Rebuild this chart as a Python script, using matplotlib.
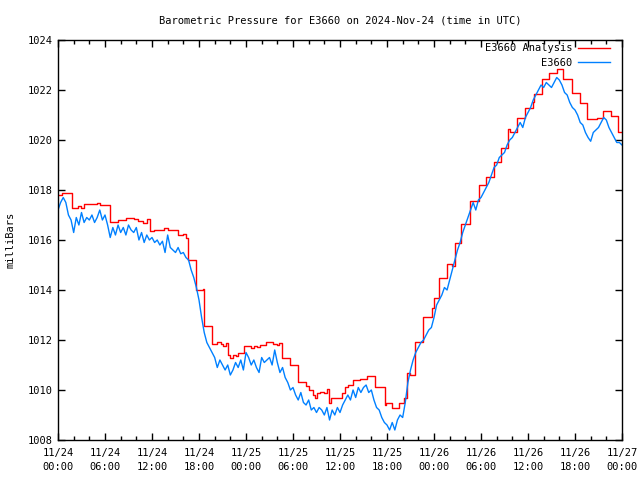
import numpy as np
import matplotlib
matplotlib.use("Agg")
import matplotlib.pyplot as plt

# time axis in hours since 2024-11-24 00:00 UTC
tick_hours = [0, 6, 12, 18, 24, 30, 36, 42, 48, 54, 60, 66, 72]
tick_labels = ["11/24\n00:00", "11/24\n06:00", "11/24\n12:00", "11/24\n18:00",
               "11/25\n00:00", "11/25\n06:00", "11/25\n12:00", "11/25\n18:00",
               "11/26\n00:00", "11/26\n06:00", "11/26\n12:00", "11/26\n18:00",
               "11/27\n00:00"]

# analysis (step) series: change times and levels
analysis_t = [0, 0.5, 1.75, 2.6, 2.9, 3.36, 5.0, 5.3, 6.64, 7.6, 8.7, 9.75, 10.2,
              10.8, 11.3, 11.75, 12.3, 13.5, 14.0, 15.3, 16.0, 16.4, 16.6, 17.6,
              18.5, 18.7, 19.7, 20.3, 20.8, 21.1, 21.4, 21.7, 22.0, 22.3, 22.7,
              23.0, 23.8, 24.6, 25.0, 25.4, 25.8, 26.6, 27.5, 27.9, 28.2, 28.55,
              29.6, 30.7, 31.7, 32.0, 32.5, 32.8, 33.1, 33.4, 33.9, 34.3, 34.6,
              34.9, 36.2, 36.6, 37.0, 37.7, 38.5, 39.4, 40.5, 41.7, 41.9, 42.7,
              43.5, 44.2, 44.6, 44.9, 45.6, 46.6, 47.75, 48.0, 48.6, 49.6, 50.3,
              50.7, 51.5, 52.6, 53.7, 54.6, 55.6, 56.6, 57.5, 57.7, 58.6, 59.6,
              60.7, 60.8, 61.75, 62.7, 63.7, 64.5, 65.6, 66.6, 67.5, 68.8, 69.6,
              70.6, 71.5, 72]
analysis_p = [1017.8, 1017.9, 1017.27, 1017.35, 1017.27, 1017.44, 1017.5, 1017.4,
              1016.71, 1016.8, 1016.9, 1016.83, 1016.76, 1016.67, 1016.83, 1016.35,
              1016.4, 1016.47, 1016.4, 1016.2, 1016.25, 1016.07, 1015.2, 1014.0,
              1014.05, 1012.56, 1011.84, 1011.93, 1011.84, 1011.75, 1011.87, 1011.4,
              1011.27, 1011.4, 1011.35, 1011.5, 1011.75, 1011.67, 1011.78, 1011.72,
              1011.8, 1011.93, 1011.84, 1011.8, 1011.9, 1011.27, 1011.0, 1010.33,
              1010.16, 1010.0, 1009.8, 1009.67, 1009.87, 1009.93, 1009.87, 1010.03,
              1009.49, 1009.67, 1009.87, 1010.13, 1010.2, 1010.4, 1010.45, 1010.56,
              1010.13, 1009.4, 1009.5, 1009.3, 1009.47, 1009.67, 1010.67, 1010.6,
              1011.93, 1012.93, 1013.27, 1013.67, 1014.47, 1015.04, 1014.95, 1015.9,
              1016.63, 1017.56, 1018.2, 1018.53, 1019.13, 1019.7, 1020.45, 1020.33,
              1020.9, 1021.27, 1021.53, 1021.83, 1022.43, 1022.67, 1022.83, 1022.43,
              1021.9, 1021.47, 1020.83, 1020.87, 1021.17, 1020.96, 1020.33, 1020.33]

# station readings, every 20 minutes
station_p = [
    1017.2, 1017.5, 1017.7, 1017.5, 1017.0, 1016.8, 1016.3, 1016.9, 1016.6,
    1017.1, 1016.7, 1016.9, 1016.8, 1017.0, 1016.7, 1016.9, 1017.2, 1016.8,
    1017.0, 1016.6, 1016.1, 1016.5, 1016.2, 1016.6, 1016.3, 1016.5, 1016.2,
    1016.6, 1016.4, 1016.3, 1016.5, 1016.0, 1016.3, 1015.9, 1016.2, 1016.0,
    1016.1, 1015.9, 1016.0, 1015.8, 1015.95, 1015.5, 1016.2, 1015.7, 1015.6,
    1015.5, 1015.7, 1015.45, 1015.5, 1015.3, 1015.2, 1014.8, 1014.5, 1014.1,
    1013.6, 1012.9, 1012.3, 1011.9, 1011.7, 1011.5, 1011.3, 1010.9, 1011.2,
    1011.0, 1010.8, 1011.0, 1010.6, 1010.8, 1011.1, 1010.9, 1011.2, 1010.8,
    1011.5, 1011.3, 1011.0, 1011.2, 1010.9, 1010.7, 1011.3, 1011.1, 1011.2,
    1011.3, 1011.0, 1011.6, 1011.1, 1010.7, 1010.9, 1010.5, 1010.3, 1010.0,
    1010.1, 1009.8, 1009.6, 1009.9, 1009.5, 1009.4, 1009.6, 1009.2, 1009.3,
    1009.1, 1009.3, 1009.2, 1009.0, 1009.3, 1008.8, 1009.2, 1009.0, 1009.3,
    1009.1, 1009.4, 1009.6, 1009.8, 1009.6, 1010.0, 1009.7, 1010.1, 1009.9,
    1010.1, 1010.2, 1009.9, 1010.0, 1009.6, 1009.3, 1009.2, 1008.9, 1008.7,
    1008.6, 1008.4, 1008.7, 1008.4, 1008.8, 1009.0, 1008.9, 1009.5, 1010.3,
    1010.8, 1011.2, 1011.5, 1011.7, 1011.9, 1012.0, 1012.2, 1012.4, 1012.5,
    1012.9, 1013.4, 1013.6, 1013.8, 1014.1, 1014.0, 1014.4, 1014.8, 1015.2,
    1015.6, 1015.9, 1016.3, 1016.6, 1016.9, 1017.2, 1017.5, 1017.2, 1017.6,
    1017.7, 1017.9, 1018.1, 1018.3, 1018.6, 1018.9, 1019.0, 1019.3, 1019.4,
    1019.5, 1019.8, 1020.0, 1020.1, 1020.3, 1020.5, 1020.7, 1020.5, 1020.9,
    1021.1, 1021.3, 1021.6, 1021.8, 1022.0, 1022.2, 1022.1, 1022.3, 1022.2,
    1022.1, 1022.3, 1022.5, 1022.4, 1022.2, 1021.9, 1021.8, 1021.5, 1021.3,
    1021.2, 1021.0, 1020.7, 1020.6, 1020.3, 1020.1, 1019.95, 1020.3, 1020.4,
    1020.5, 1020.7, 1020.9, 1020.8, 1020.5, 1020.3, 1020.1, 1019.9, 1019.9,
    1019.8]
station_t = np.arange(len(station_p)) / 3.0

plt.rcParams['font.family'] = ['DejaVu Sans Mono']
plt.rcParams['font.size'] = 7.5

fig = plt.figure(figsize=(6.4, 4.8), dpi=100)
ax = fig.add_axes([58 / 640, 40 / 480, 564 / 640, 400 / 480])

ax.step(analysis_t, analysis_p, where='post', color='#ff0000', lw=1.0,
        label='E3660 Analysis')
ax.plot(station_t, station_p, color='#0080ff', lw=1.0, label='E3660')

ax.set_xlim(0, 72)
ax.set_ylim(1008, 1024)
ax.set_xticks(tick_hours)
ax.set_xticklabels(tick_labels, linespacing=1.45)
ax.set_xticks(np.arange(0, 73, 2), minor=True)
ax.set_yticks(np.arange(1008, 1025, 2))
ax.tick_params(which='both', direction='in', top=True, right=True, width=1)
ax.tick_params(which='major', length=5)
ax.tick_params(which='minor', length=3)
ax.tick_params(axis='x', which='major', pad=6)
for s in ax.spines.values():
    s.set_linewidth(1)

ax.set_ylabel('milliBars', labelpad=9)
ax.set_title('Barometric Pressure for E3660 on 2024-Nov-24 (time in UTC)',
             fontsize=7.5, pad=12)

leg = ax.legend(loc='upper right', frameon=False, markerfirst=False,
                handlelength=3.0, handletextpad=0.6, borderaxespad=0.5,
                labelspacing=0.45,
                bbox_to_anchor=(1 - 3 / 564, 1 + 6 / 400))
for t in leg.get_texts():
    t.set_ha('right')

fig.savefig('out.png', dpi=100)
